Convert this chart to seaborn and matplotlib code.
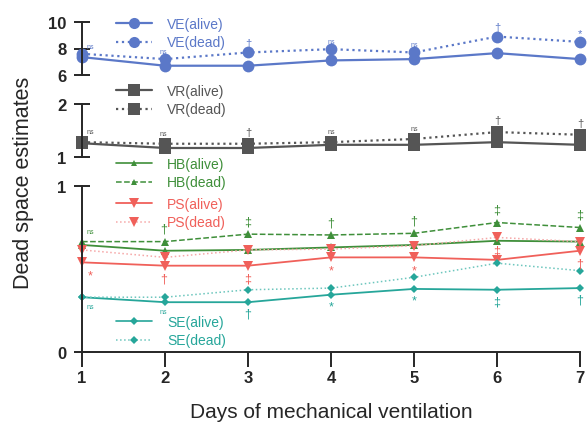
import numpy as np
import pandas as pd
import matplotlib
matplotlib.use("Agg")
import matplotlib.pyplot as plt
import seaborn as sns
from matplotlib.lines import Line2D

sns.set_style("ticks")
plt.rcParams['font.family'] = ['Liberation Sans', 'DejaVu Sans']

# -------------------------------
# Data
# -------------------------------
days = [1, 2, 3, 4, 5, 6, 7]

ve_alive = [7.35, 6.7, 6.7, 7.1, 7.2, 7.65, 7.2]
ve_dead = [7.6, 7.2, 7.7, 7.95, 7.7, 8.9, 8.5]
ve_marks = ["ns", "ns", "†", "ns", "ns", "†", "*"]

vr_alive = [1.26, 1.17, 1.17, 1.23, 1.23, 1.28, 1.23]
vr_dead = [1.28, 1.25, 1.25, 1.28, 1.34, 1.47, 1.42]
vr_marks = ["ns", "ns", "†", "ns", "ns", "†", "†"]

hb_alive = [0.645, 0.61, 0.615, 0.63, 0.645, 0.67, 0.665]
hb_dead = [0.665, 0.665, 0.71, 0.705, 0.715, 0.78, 0.75]
hb_marks = ["ns", "†", "‡", "†", "†", "‡", "‡"]

ps_alive = [0.54, 0.52, 0.52, 0.57, 0.57, 0.555, 0.61]
ps_dead = [0.615, 0.57, 0.615, 0.62, 0.64, 0.69, 0.665]
ps_marks = ["*", "†", "‡", "*", "*", "‡", "†"]

se_alive = [0.33, 0.30, 0.30, 0.345, 0.38, 0.375, 0.385]
se_dead = [0.33, 0.33, 0.375, 0.385, 0.45, 0.535, 0.49]
se_marks = ["ns", "ns", "†", "*", "*", "‡", "†"]

c_ve = "#5b78c8"
c_vr = "#555555"
c_hb = "#3f8f3a"
c_ps = "#f0605a"
c_ps_light = "#f6a8a8"
c_se = "#26a69a"
c_se_light = "#6cc6bd"

fig = plt.figure(figsize=(5.88, 4.31), dpi=100)
L, R = 82 / 588, 580 / 588
def px_axes(ytop, ybot):
    return fig.add_axes([L, 1 - ybot / 431, R - L, (ybot - ytop) / 431])

ax_ve = px_axes(23, 76)
ax_vr = px_axes(105, 158)
ax_bt = px_axes(187, 353)


def draw(ax, vals, color, ls, marker, ms, lw=1.6, mcolor=None):
    sns.lineplot(x=days, y=vals, ax=ax, color=color, linestyle=ls, marker=marker,
                 markersize=ms, linewidth=lw, markeredgewidth=0,
                 markerfacecolor=mcolor or color, clip_on=False)


def marks(ax, base, labels, color, dy, fs=9):
    for d, b, m in zip(days, base, labels):
        size = 5 if m == "ns" else fs
        dx = 6 if d == 1 else (-1 if d == 2 else 0)
        ax.annotate(m, (d, b), xytext=(dx, dy), textcoords="offset points",
                    ha="center", va="bottom" if dy > 0 else "top",
                    color=color, fontsize=size, annotation_clip=False)


# VE panel
draw(ax_ve, ve_alive, c_ve, "-", "o", 8.5)
draw(ax_ve, ve_dead, c_ve, ":", "o", 8.5)
marks(ax_ve, ve_dead, ve_marks, c_ve, 3, fs=8)
ax_ve.set_ylim(6, 10)
ax_ve.set_yticks([6, 8, 10])

# VR panel
draw(ax_vr, vr_alive, c_vr, "-", "s", 8)
draw(ax_vr, vr_dead, c_vr, ":", "s", 8)
marks(ax_vr, vr_dead, vr_marks, c_vr, 5, fs=8)
ax_vr.set_ylim(1, 2)
ax_vr.set_yticks([1, 2])

# Bottom panel
draw(ax_bt, hb_alive, c_hb, "-", "^", 6, lw=1.3)
draw(ax_bt, hb_dead, c_hb, "--", "^", 6, lw=1.1)
draw(ax_bt, ps_alive, c_ps, "-", "v", 7, lw=1.3)
draw(ax_bt, ps_dead, c_ps_light, ":", "v", 7, lw=1.1, mcolor=c_ps)
draw(ax_bt, se_alive, c_se, "-", "D", 4, lw=1.3)
draw(ax_bt, se_dead, c_se_light, ":", "D", 4, lw=1.1, mcolor=c_se)
marks(ax_bt, hb_dead, hb_marks, c_hb, 5)
# the day-6 PS mark sits under the dead series in the reference
ps_anchor = [a if i != 5 else d for i, (a, d) in enumerate(zip(ps_alive, ps_dead))]
marks(ax_bt, ps_anchor, ps_marks, c_ps, -5)
marks(ax_bt, se_alive, se_marks, c_se, -4)
ax_bt.set_ylim(0, 1)
ax_bt.set_yticks([0, 1])

for ax in (ax_ve, ax_vr, ax_bt):
    ax.set_xlim(1, 7)
    ax.set_ylabel("")
    ax.spines["right"].set_visible(False)
    ax.spines["top"].set_visible(False)
    ax.spines["left"].set_linewidth(1.4)
    ax.tick_params(axis="y", direction="inout", length=12, width=1.4,
                   labelsize=12, pad=5)
    for t in ax.get_yticklabels():
        t.set_fontweight("bold")
    ax.patch.set_alpha(0)

for ax in (ax_ve, ax_vr):
    ax.spines["bottom"].set_visible(False)
    ax.set_xticks([])

ax_bt.spines["bottom"].set_linewidth(1.4)
ax_bt.set_xticks(days)
ax_bt.tick_params(axis="x", length=11, width=1.4, labelsize=12, pad=2)
for t in ax_bt.get_xticklabels():
    t.set_fontweight("bold")
ax_bt.set_xlabel("Days of mechanical ventilation", fontsize=15, labelpad=12)

fig.text(0.04, 0.575, "Dead space estimates", rotation=90, fontsize=15.5,
         ha="center", va="center")


def legend_at(handles, labels, color, ytop):
    leg = fig.legend(handles, labels, loc="upper left",
                     bbox_to_anchor=(110 / 588, 1 - ytop / 431),
                     frameon=False, fontsize=10, handlelength=2.6,
                     handletextpad=1.1, labelspacing=0.35, borderaxespad=0)
    for t in leg.get_texts():
        t.set_color(color)
    return leg


def h(color, ls, marker, ms, lw=1.6, mcolor=None):
    return Line2D([], [], color=color, linestyle=ls, marker=marker,
                  markersize=ms, linewidth=lw, markeredgewidth=0,
                  markerfacecolor=mcolor or color)


legend_at([h(c_ve, "-", "o", 8), h(c_ve, ":", "o", 8)],
          ["VE(alive)", "VE(dead)"], c_ve, 12)
legend_at([h(c_vr, "-", "s", 8), h(c_vr, ":", "s", 8)],
          ["VR(alive)", "VR(dead)"], c_vr, 79)
legend_at([h(c_hb, "-", "^", 5, 1.2), h(c_hb, "--", "^", 5, 1.1)],
          ["HB(alive)", "HB(dead)"], c_hb, 152)
legend_at([h(c_ps, "-", "v", 7, 1.3), h(c_ps_light, ":", "v", 7, 1.1, c_ps)],
          ["PS(alive)", "PS(dead)"], c_ps, 192)
legend_at([h(c_se, "-", "D", 4, 1.2), h(c_se_light, ":", "D", 4, 1.1, c_se)],
          ["SE(alive)", "SE(dead)"], c_se, 310)

fig.savefig("out.png", dpi=100)
